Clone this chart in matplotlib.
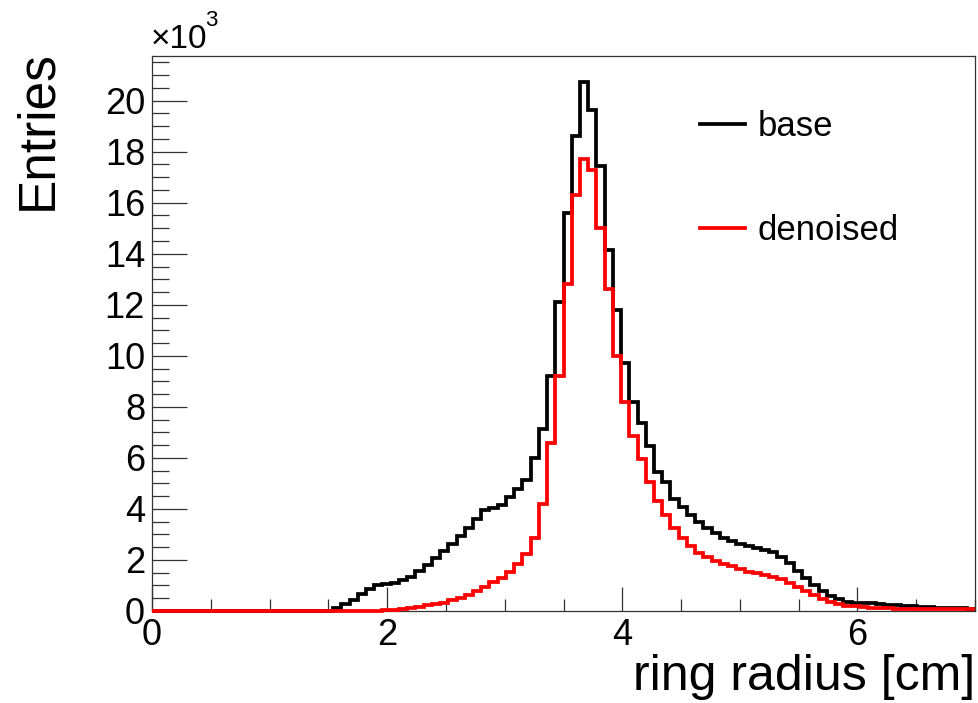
import numpy as np
import matplotlib
matplotlib.use("Agg")
import matplotlib.pyplot as plt
from matplotlib.ticker import MultipleLocator

plt.rcParams['font.family'] = ['Liberation Sans', 'DejaVu Sans']

# 100 bins of ring radius between 0 and 7 cm
n_bins = 100
x_min, x_max = 0.0, 7.0

# bin contents, first non-empty bin index and counts
base_start = 22
base_counts = [
    120, 260, 450, 650, 850, 1000, 1050, 1100, 1200, 1350,
    1550, 1800, 2070, 2350, 2620, 2950, 3250, 3600, 3950, 4050,
    4150, 4450, 4800, 5150, 6000, 7150, 9200, 12100, 15600, 18600,
    20750, 19650, 17450, 14150, 11800, 9700, 8200, 7350, 6450, 5450,
    5070, 4400, 4070, 3750, 3500, 3250, 3060, 2880, 2730, 2640,
    2540, 2480, 2400, 2300, 2120, 1870, 1580, 1300, 1020, 800,
    600, 460, 370, 310, 300, 300, 280, 230, 220, 200,
    180, 170, 150, 130, 120, 100, 100, 90,
]

denoised_start = 28
denoised_counts = [
    30, 50, 80, 120, 170, 220, 270, 320, 420, 500,
    620, 780, 930, 1120, 1300, 1540, 1830, 2230, 2870, 4200,
    6600, 9200, 12800, 16300, 17700, 17300, 15000, 12600, 10000, 8200,
    6850, 5950, 5050, 4300, 3750, 3250, 2860, 2550, 2290, 2100,
    1960, 1850, 1760, 1660, 1520, 1480, 1400, 1350, 1250, 1100,
    940, 790, 630, 470, 340, 270, 210, 180, 140, 120,
    100, 100, 90, 80, 80, 70, 70, 70, 60, 60,
    60, 60,
]

labels = ["base", "denoised"]
colors = ["black", "#ff0000"]

edges = np.linspace(x_min, x_max, n_bins + 1)


def fill_bins(start, counts):
    h = np.zeros(n_bins)
    h[start:start + len(counts)] = counts
    return h


hists = [fill_bins(base_start, base_counts), fill_bins(denoised_start, denoised_counts)]

fig = plt.figure(figsize=(9.79, 7.03), dpi=100)
ax = fig.add_axes([152 / 979, 1 - 611 / 703, (975 - 152) / 979, (611 - 56) / 703])

for h, lab, col in zip(hists, labels, colors):
    ax.stairs(h / 1000.0, edges, color=col, linewidth=2.7, label=lab,
              baseline=None, clip_on=False, zorder=3)

ax.set_xlim(x_min, x_max)
ax.set_ylim(0, 21.75)

ax.xaxis.set_major_locator(MultipleLocator(2))
ax.xaxis.set_minor_locator(MultipleLocator(0.5))
ax.yaxis.set_major_locator(MultipleLocator(2))
ax.yaxis.set_minor_locator(MultipleLocator(0.5))

ax.tick_params(axis='both', which='both', direction='in', top=False, right=False,
               color='#333333', width=0.9, labelsize=26)
ax.tick_params(axis='y', which='major', length=25, pad=5)
ax.tick_params(axis='y', which='minor', length=12)
ax.tick_params(axis='x', which='major', length=17, pad=5)
ax.tick_params(axis='x', which='minor', length=9)

for sp in ax.spines.values():
    sp.set_linewidth(0.9)
    sp.set_color('#333333')

fig.text(975 / 979, 1 - 690 / 703, "ring radius [cm]", ha='right', va='baseline', fontsize=36)
fig.text(38 / 979, 1 - 50 / 703, "Entries", ha='center', va='top', rotation=90, fontsize=37)

fig.text(151 / 979, 1 - 48 / 703, "×10", ha='left', va='baseline', fontsize=24)
fig.text(205 / 979, 1 - 26 / 703, "3", ha='left', va='baseline', fontsize=16)

ax.legend(loc='upper left', bbox_to_anchor=(548 / 823, 1 - 54 / 555), frameon=False,
          fontsize=25, handlelength=1.3, handletextpad=0.35, labelspacing=2.05,
          borderaxespad=0, borderpad=0)

fig.savefig("out.png", dpi=100, facecolor='white')
